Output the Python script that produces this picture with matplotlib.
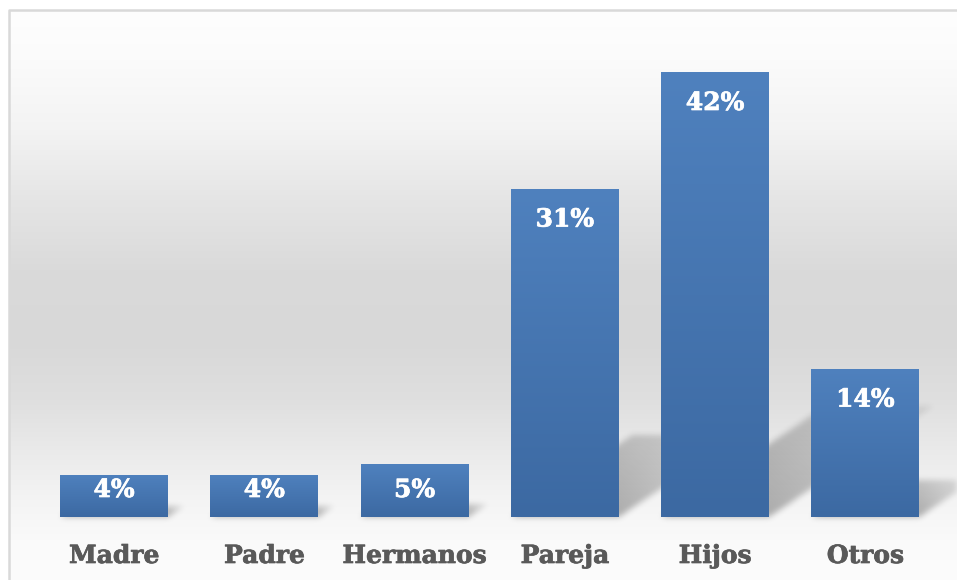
import numpy as np
import matplotlib
matplotlib.use("Agg")
import matplotlib.pyplot as plt
from matplotlib.path import Path
from matplotlib.colors import LinearSegmentedColormap
import matplotlib.patheffects as pe

# ---- data ----
categories = ["Madre", "Padre", "Hermanos", "Pareja", "Hijos", "Otros"]
values = [4, 4, 5, 31, 42, 14]
value_labels = ["4%", "4%", "5%", "31%", "42%", "14%"]

W, H = 957, 580
DPI = 100
fig = plt.figure(figsize=(W / DPI, H / DPI), dpi=DPI)
fig.patch.set_facecolor("white")

# ---- background axes (pixel coordinates, y down) ----
bg = fig.add_axes([0, 0, 1, 1], zorder=0)
bg.set_xlim(0, W)
bg.set_ylim(H, 0)
bg.axis("off")

stops_y = np.array([10, 60, 130, 200, 270, 340, 400, 450, 500, 540, 580])
stops_v = np.array([254, 251, 243, 229, 218, 216, 223, 234, 244, 250, 252]) / 255.0
yy = np.arange(H)
gv = np.interp(yy, stops_y, stops_v)
grad = np.repeat(gv[:, None], 3, axis=1)[:, None, :]
frame_x0, frame_y0 = 9, 10
bg.imshow(grad[frame_y0:], extent=(frame_x0, W, H, frame_y0), aspect="auto",
          interpolation="bilinear", zorder=0)
bg.plot([frame_x0, frame_x0, W], [H, frame_y0, frame_y0], color="#d9d9d9",
        lw=1.8, zorder=1, solid_capstyle="butt")

# ---- main axes ----
base_px = 517
top_px = 30
left_px, right_px = 39, 940.5
ax = fig.add_axes([left_px / W, (H - base_px) / H,
                   (right_px - left_px) / W, (base_px - top_px) / H], zorder=2)
ax.patch.set_alpha(0)
x = np.arange(len(categories))
ppu = 445 / 42.0
ax.set_xlim(-0.5, len(categories) - 0.5)
ax.set_ylim(0, (base_px - top_px) / ppu)
for s in ax.spines.values():
    s.set_visible(False)
ax.set_xticks([])
ax.set_yticks([])

bar_w = 108 / 150.3
bars = ax.bar(x, values, width=bar_w, color="#4A7AB5", zorder=3, linewidth=0)

cmap = LinearSegmentedColormap.from_list("bg", ["#3C69A2", "#4F81BE"])
g = np.linspace(0, 1, 256)[:, None]
for b in bars:
    x0, y0 = b.get_x(), b.get_y()
    im = ax.imshow(g, extent=(x0, x0 + b.get_width(), y0, y0 + b.get_height()),
                   origin="lower", cmap=cmap, aspect="auto", zorder=4,
                   interpolation="bilinear")
    im.set_clip_path(b)

# ---- shadows (computed from bar geometry in pixel space) ----
fig.canvas.draw()
tr = ax.transData
shade = np.zeros((H, W))
PX, PY = np.meshgrid(np.arange(W) + 0.5, np.arange(H) + 0.5)
pts = np.column_stack([PX.ravel(), PY.ravel()])
ka, kb = 0.37, 0.25
for b in bars:
    (dx0, dy0) = tr.transform((b.get_x(), 0))
    (dx1, dy1) = tr.transform((b.get_x() + b.get_width(), b.get_height()))
    X0, X1 = dx0, dx1
    B = H - dy0
    hpx = dy1 - dy0
    ax_, bx_ = ka * hpx, kb * hpx
    poly = Path([(X0, B), (X1, B), (X1 + ax_, B - bx_), (X0 + ax_, B - bx_), (X0, B)])
    m = poly.contains_points(pts).reshape(H, W)
    t = np.clip((B - PY) / max(bx_, 1), 0, 1)
    sx = np.clip((PX - X1) / max(ax_ + 1, 1), 0, 1)
    a = m * (1 - 0.35 * t) * (1 - 0.6 * sx)
    shade = np.maximum(shade, a)

def blur1d(arr, sigma, axis):
    r = int(3 * sigma)
    k = np.exp(-0.5 * (np.arange(-r, r + 1) / sigma) ** 2)
    k /= k.sum()
    return np.apply_along_axis(lambda v: np.convolve(v, k, mode="same"), axis, arr)

shade = blur1d(blur1d(shade, 3.0, 0), 3.0, 1)
rgba = np.zeros((H, W, 4))
rgba[..., 3] = np.clip(shade * 0.3, 0, 1)
bg.imshow(rgba, extent=(0, W, H, 0), aspect="auto", zorder=2, interpolation="bilinear")

# ---- labels ----
font = dict(family="DejaVu Serif", weight="bold", size=18)
for i, (v, lab) in enumerate(zip(values, value_labels)):
    hpx = v * ppu
    center_from_base = max(hpx - 31, 27)
    ax.annotate(lab, xy=(i, 0), xytext=(0, center_from_base * 72 / DPI),
                textcoords="offset points", ha="center", va="center",
                color="white", zorder=6,
                path_effects=[pe.withStroke(linewidth=0.5, foreground="white")],
                **font)
    ax.annotate(categories[i], xy=(i, 0), xytext=(0, -46 * 72 / DPI),
                textcoords="offset points", ha="center", va="baseline",
                color="#595959", zorder=6, annotation_clip=False,
                path_effects=[pe.withStroke(linewidth=0.5, foreground="#595959")],
                **font)

fig.savefig("out.png", dpi=DPI)
